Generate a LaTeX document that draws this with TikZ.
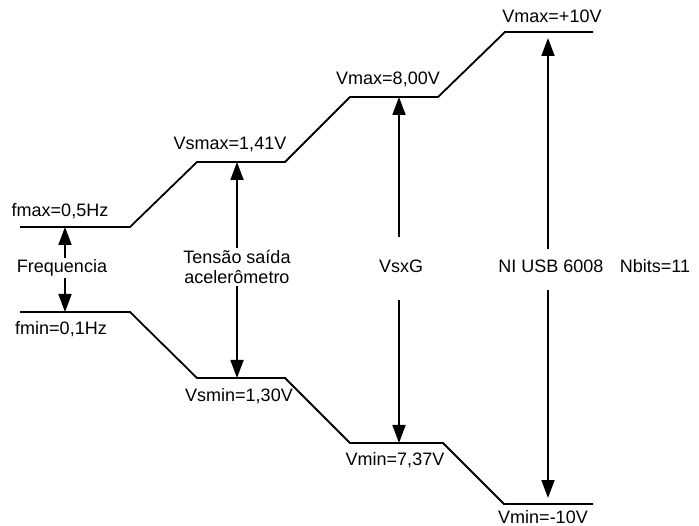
\documentclass[tikz,border=0pt]{standalone}
\usepackage{fontspec}
\setmainfont{Liberation Sans}
\usetikzlibrary{arrows.meta}

\begin{document}
\begin{tikzpicture}[x=1pt, y=-1pt,
    txt/.style={inner sep=2pt, font=\fontsize{18}{20}\selectfont},
    lbl/.style={txt, text height=13pt, text depth=3pt},
    edge/.style={line width=1.8pt},
    span/.style={line width=1.8pt, -{Triangle[width=13pt,length=18pt]}}
]
\useasboundingbox (0,0) rectangle (699,526);

% upper and lower limits
\draw[edge] (20,227) -- (130,227) -- (197,162) -- (285,162) -- (350,97) -- (438,97) -- (505,32) -- (593,32);
\draw[edge] (20,312) -- (130,312) -- (197,378) -- (285,378) -- (350,443) -- (443,443) -- (504,504) -- (593,504);

% points on the limits
\coordinate (fmaxp) at (65,227);
\coordinate (fminp) at (65,312);
\coordinate (vsmaxp) at (237,162);
\coordinate (vsminp) at (237,378);
\coordinate (vmaxp) at (399,97);
\coordinate (vminp) at (399,443);
\coordinate (nimaxp) at (548,32);
\coordinate (niminp) at (548,504);

% limit labels
\node[lbl] (fmax) at (60,212) {fmax=0,5Hz};
\node[lbl] (fmin) at (61,330) {fmin=0,1Hz};
\node[lbl] (vsmax) at (230,145) {Vsmax=1,41V};
\node[lbl] (vsmin) at (239,397) {Vsmin=1,30V};
\node[lbl] (vmax) at (388,80) {Vmax=8,00V};
\node[lbl] (vmin) at (395,460) {Vmin=7,37V};
\node[lbl] (nimax) at (552,18) {Vmax=+10V};
\node[lbl] (nimin) at (543,518) {Vmin=-10V};

% stage labels
\node[lbl] (freq) at (62,268) {Frequencia};
\node[txt, align=center] (tensao) at (237,267) {Tensão saída\\acelerômetro};
\node[lbl] (vsxg) at (401,268) {VsxG};
\node[lbl] (niusb) at (551,268) {NI USB 6008};
\node[lbl] (nbits) at (655,268) {Nbits=11};

% ranges
\draw[span] (freq.north -| fmaxp) -- (fmaxp);
\draw[span] (freq.south -| fminp) -- (fminp);
\draw[span] (tensao.north -| vsmaxp) -- (vsmaxp);
\draw[span] (tensao.south -| vsminp) -- (vsminp);
\draw[span, shorten <=21pt] (vsxg.north -| vmaxp) -- (vmaxp);
\draw[span, shorten <=22pt] (vsxg.south -| vminp) -- (vminp);
\draw[span, shorten <=9pt, shorten >=6pt] (niusb.north -| nimaxp) -- (nimaxp);
\draw[span, shorten <=12pt, shorten >=6pt] (niusb.south -| niminp) -- (niminp);
\end{tikzpicture}
\end{document}
